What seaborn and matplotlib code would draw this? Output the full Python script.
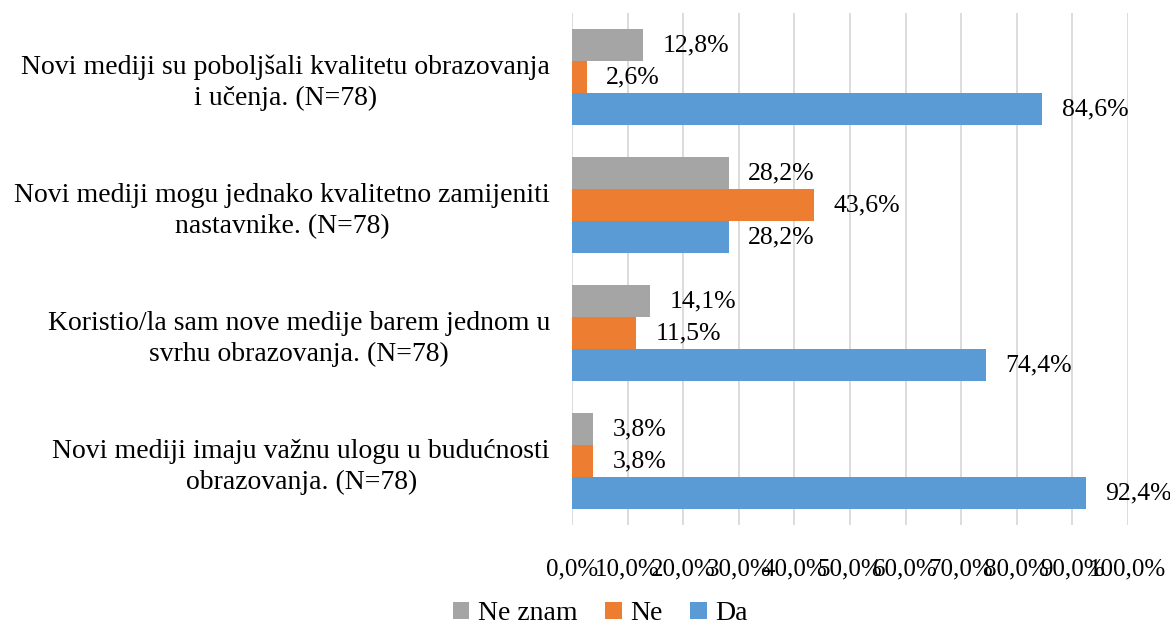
import seaborn as sns
import pandas as pd
import matplotlib.pyplot as plt
from matplotlib.ticker import FuncFormatter

questions = [
    "Novi mediji su poboljšali kvalitetu obrazovanja\ni učenja. (N=78)",
    "Novi mediji mogu jednako kvalitetno zamijeniti\nnastavnike. (N=78)",
    "Koristio/la sam nove medije barem jednom u\nsvrhu obrazovanja. (N=78)",
    "Novi mediji imaju važnu ulogu u budućnosti\nobrazovanja. (N=78)",
]
answers = ["Ne znam", "Ne", "Da"]
ne_znam = [12.8, 28.2, 14.1, 3.8]
ne = [2.6, 43.6, 11.5, 3.8]
da = [84.6, 28.2, 74.4, 92.4]
colors = ["#A5A5A5", "#ED7D31", "#5B9BD5"]

rows = []
for name, vals in zip(answers, [ne_znam, ne, da]):
    for q, v in zip(questions, vals):
        rows.append({"pitanje": q, "odgovor": name, "postotak": v})
df = pd.DataFrame(rows)

sns.set_theme(style="white")
plt.rcParams["font.family"] = ["Liberation Serif", "DejaVu Serif"]
plt.rcParams["text.color"] = "black"
plt.rcParams["xtick.color"] = "black"
plt.rcParams["ytick.color"] = "black"

fig, ax = plt.subplots(figsize=(11.7, 6.25), dpi=100)
fig.subplots_adjust(left=0.489, right=0.964, top=0.979, bottom=0.16)

sns.barplot(data=df, y="pitanje", x="postotak", hue="odgovor",
            order=questions, hue_order=answers, palette=colors,
            orient="h", width=0.75, saturation=1, linewidth=0, ax=ax)

for cont in ax.containers:
    ax.bar_label(cont, labels=[f"{v:.1f}%".replace(".", ",") for v in cont.datavalues],
                 padding=14, fontsize=18.5, color="black")

ax.set_xlim(0, 100)
ax.set_xticks(range(0, 101, 10))
ax.xaxis.set_major_formatter(FuncFormatter(lambda v, p: f"{v:.1f}%".replace(".", ",")))
ax.grid(axis="x", color="#D9D9D9", linewidth=1.3)
ax.set_axisbelow(True)
sns.despine(ax=ax, left=True, bottom=True)
ax.set_xlabel("")
ax.set_ylabel("")
ax.tick_params(axis="x", labelsize=18, length=0, pad=24)
ax.tick_params(axis="y", labelsize=20, length=0, pad=16)
for t in ax.get_yticklabels():
    t.set_multialignment("center")
    t.set_linespacing(1.3)

handles, labels = ax.get_legend_handles_labels()
ax.get_legend().remove()
fig.legend(handles, labels, loc="center", bbox_to_anchor=(0.513, 0.018), ncol=3,
           frameon=False, fontsize=20, handlelength=0.6, handleheight=0.6,
           handletextpad=0.3, columnspacing=1.0)

fig.savefig("out.png", dpi=100)
